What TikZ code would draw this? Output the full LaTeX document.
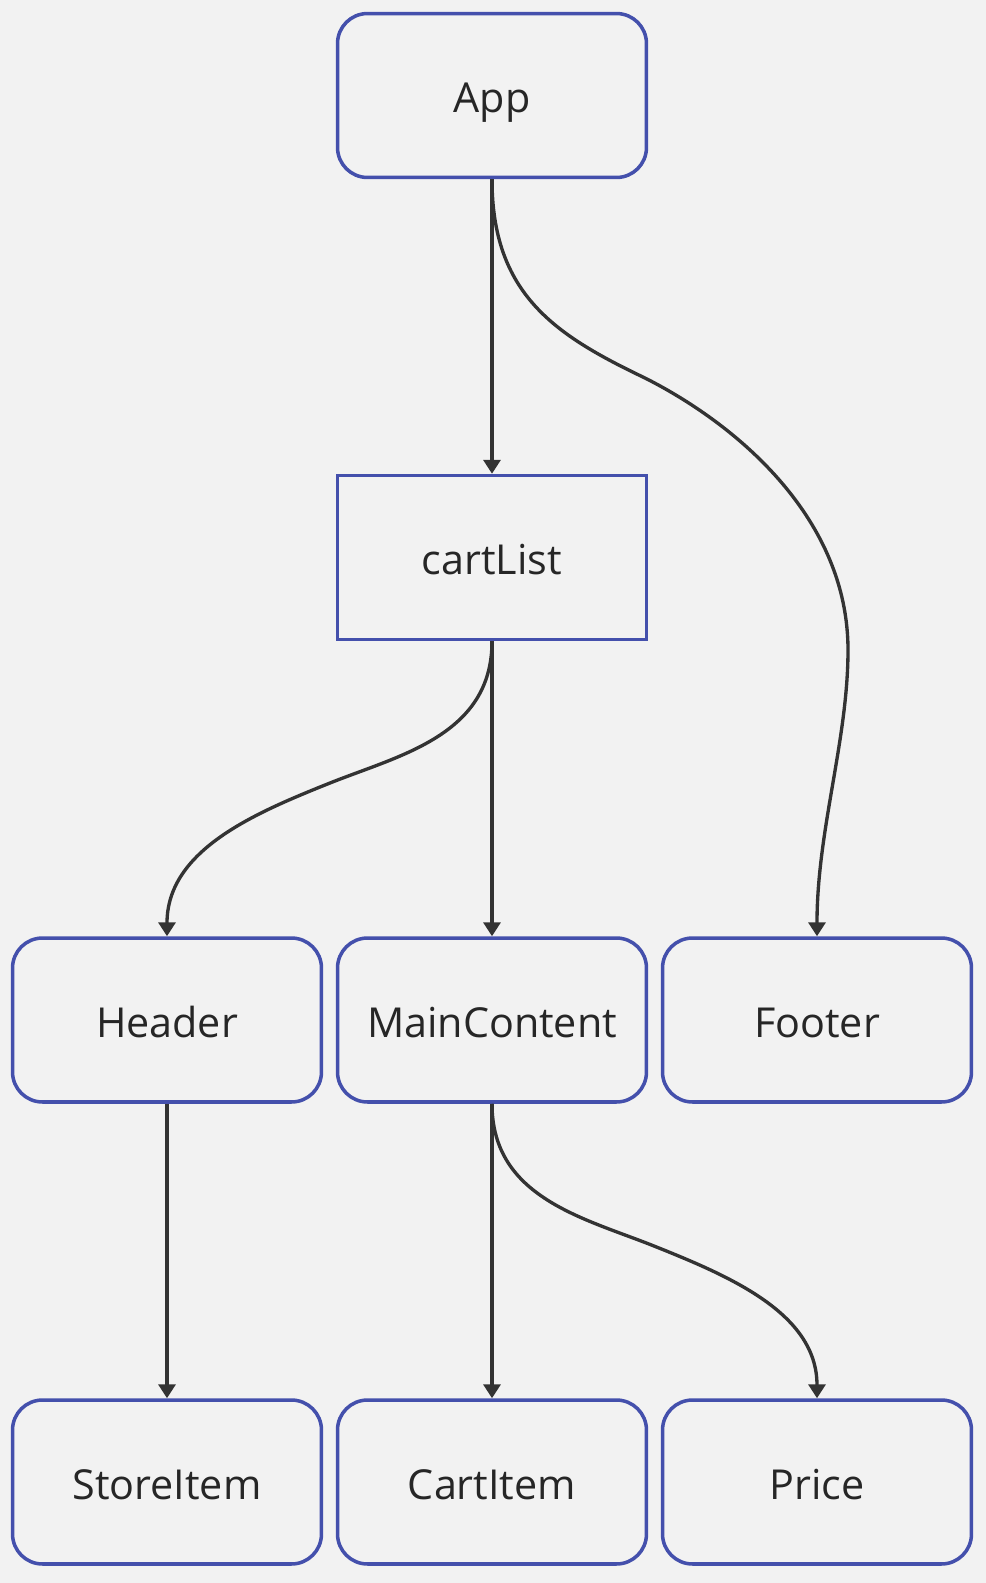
\documentclass[tikz,border=0pt]{standalone}
\usepackage{fontspec}
\setmainfont{Open Sans}
\usetikzlibrary{arrows.meta}

\definecolor{bgGrey}{HTML}{F2F2F2}
\definecolor{boxBlue}{HTML}{4450AC}
\definecolor{lineDark}{HTML}{333333}
\definecolor{textDark}{HTML}{262626}

\begin{document}
\begin{tikzpicture}[x=0.02cm, y=-0.02cm,
    comp/.style={draw=boxBlue, fill=bgGrey, line width=2pt,
      rounded corners=0.6cm, minimum width=6.18cm, minimum height=3.28cm,
      inner sep=0pt, text height=0.78cm, text depth=0.1cm,
      text=textDark, font=\fontsize{23.5}{28}\selectfont},
    plainbox/.style={comp, rounded corners=0pt},
    link/.style={draw=lineDark, line width=1.9pt,
      -{Triangle[width=0.34cm, length=0.28cm]}}]

  \fill[bgGrey] (0,0) rectangle (986,1583);
  \useasboundingbox (0,0) rectangle (986,1583);

  % --- root and list ---
  \node[comp] (app) at (492,95.5) {App};
  \node[plainbox] (cart) at (492,557.5) {cartList};

  % --- layout parts ---
  \node[comp] (header) at (167,1020) {Header};
  \node[comp] (main) at (492,1020) {MainContent};
  \node[comp] (footer) at (817,1020) {Footer};

  % --- leaves ---
  \node[comp] (store) at (167,1482) {StoreItem};
  \node[comp] (item) at (492,1482) {CartItem};
  \node[comp] (price) at (817,1482) {Price};

  % --- links ---
  \draw[link] (app.south) -- (cart.north);
  \draw[link] (app.south) .. controls +(0,115) and (555,335) .. (645,378)
    .. controls (740,426) and (848,520) .. (848,650)
    .. controls (848,740) and (817,830) .. (footer.north);

  \draw[link] (cart.south) -- (main.north);
  \draw[link] (cart.south) .. controls +(0,94) and (400,755) .. (330,783)
    .. controls (255,813) and (167,850) .. (header.north);

  \draw[link] (header.south) -- (store.north);
  \draw[link] (main.south) -- (item.north);
  \draw[link] (main.south) .. controls +(0,94) and (584,1218) .. (654,1246)
    .. controls (729,1276) and (817,1313) .. (price.north);

\end{tikzpicture}
\end{document}
